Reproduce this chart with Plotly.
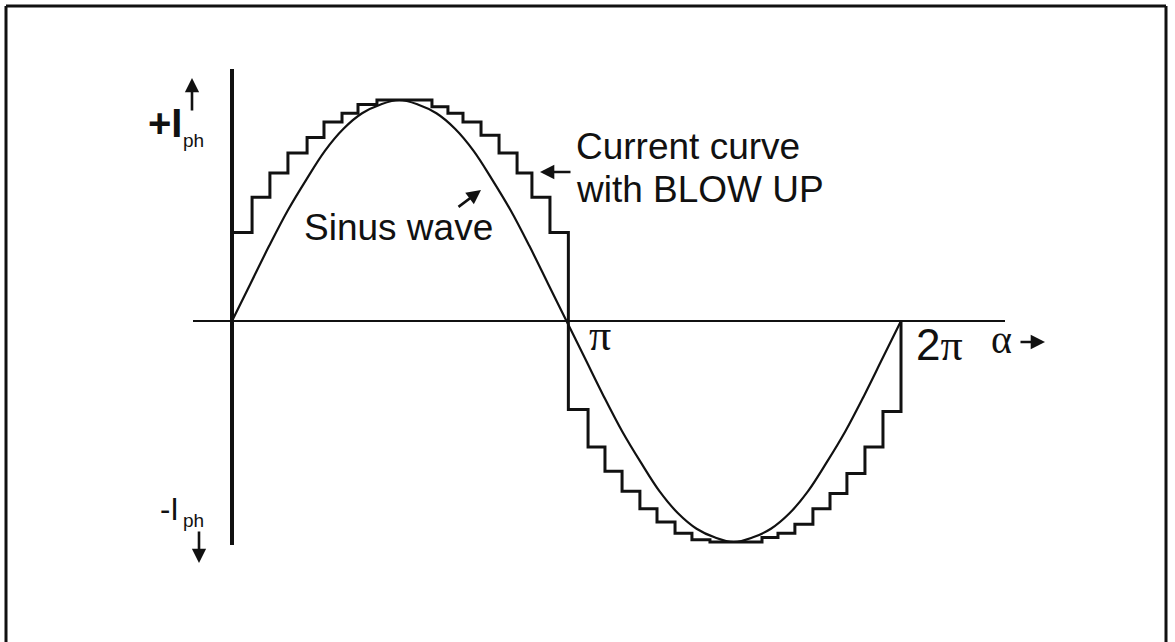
"""
Sinus wave vs. stepped current curve with BLOW UP (one full period).
"""
import plotly.graph_objects as go

W, H = 1175, 642
INK = '#111111'
SANS = 'Liberation Sans, Arial, sans-serif'
SERIF = 'Liberation Serif, Times New Roman, serif'

# ── Data (angle in degrees, current normalised to I_ph) ──────────────────────
sine_deg = [0, 10, 20, 30, 40, 50, 60, 70, 80, 90, 100, 110, 120, 130, 140, 150, 160, 170, 180,
            190, 200, 210, 220, 230, 240, 250, 260, 270, 280, 290, 300, 310, 320, 330, 340, 350, 360]
sine_val = [0, 0.17, 0.34, 0.50, 0.64, 0.77, 0.87, 0.94, 0.98, 1.00, 0.98, 0.94, 0.87, 0.77, 0.64, 0.50, 0.34, 0.17, 0,
            -0.17, -0.34, -0.50, -0.64, -0.77, -0.87, -0.94, -0.98, -1.00, -0.98, -0.94, -0.87, -0.77, -0.64, -0.50,
            -0.34, -0.17, 0]

step_start = [0, 10.8, 20.4, 30.1, 40.4, 49.5, 59.2, 67.8, 78.0, 107.6, 116.2, 124.3, 134.0, 143.7, 153.4, 161.4, 171.1,
              181.0, 191.6, 200.7, 209.9, 219.5, 228.7, 238.4, 247.5, 257.2, 285.2, 293.8, 302.9, 312.6, 321.8, 330.9,
              340.6, 350.3]
step_level = [0.40, 0.56, 0.67, 0.76, 0.83, 0.90, 0.94, 0.98, 1.00, 0.97, 0.94, 0.90, 0.84, 0.76, 0.67, 0.56, 0.40,
              -0.40, -0.57, -0.68, -0.77, -0.85, -0.91, -0.96, -0.99, -1.00, -0.98, -0.96, -0.92, -0.85, -0.78, -0.69,
              -0.57, -0.41]
period_end = 360

# ── Pixel geometry of the drawing ─────────────────────────────────────────────
X0_PX, X360_PX = 232, 901      # alpha = 0 and alpha = 2*pi
Y0_PX, AMP_PX = 321, 221       # zero line and amplitude
kx = (X360_PX - X0_PX) / 360.0


def px(x, y):
    """Pixel position -> paper coordinates."""
    return x / W, 1 - y / H


def dx(x):
    return (x - X0_PX) / kx


def dy(y):
    return (Y0_PX - y) / AMP_PX


fig = go.Figure()

# sinus wave
fig.add_trace(go.Scatter(
    x=sine_deg, y=sine_val, mode='lines',
    line=dict(color=INK, width=2.2, shape='spline', smoothing=1.0),
    hoverinfo='skip',
))

# current curve with blow up (staircase)
fig.add_trace(go.Scatter(
    x=[0] + step_start + [period_end],
    y=[0] + step_level + [0],
    mode='lines',
    line=dict(color=INK, width=3, shape='hv'),
    hoverinfo='skip',
))

# ── Hand-drawn style axes + frame ─────────────────────────────────────────────
shapes = [
    dict(type='line', xref='x', yref='y', x0=dx(193), x1=dx(1005), y0=0, y1=0,
         line=dict(color=INK, width=2)),
    dict(type='line', xref='x', yref='y', x0=0, x1=0, y0=dy(69), y1=dy(545),
         line=dict(color=INK, width=4)),
]
fl, ft, fr = px(6, 6)[0], px(6, 6)[1], px(1166, 6)[0]
for x0, y0, x1, y1 in [(fl, ft, fr, ft), (fl, ft, fl, -0.05), (fr, ft, fr, -0.05)]:
    shapes.append(dict(type='line', xref='paper', yref='paper', x0=x0, y0=y0, x1=x1, y1=y1,
                       line=dict(color=INK, width=3)))

# ── Labels ────────────────────────────────────────────────────────────────────
annotations = []


def label(text, x, y, size, family=SANS, xanchor='left'):
    ax_, ay_ = px(x, y)
    annotations.append(dict(text=text, x=ax_, y=ay_, xref='paper', yref='paper',
                            xanchor=xanchor, yanchor='middle', showarrow=False,
                            font=dict(family=family, size=size, color=INK)))


def arrow(x_tail, y_tail, x_head, y_head):
    hx, hy = px(x_head, y_head)
    annotations.append(dict(text='', x=hx, y=hy, xref='paper', yref='paper',
                            ax=x_tail - x_head, ay=y_tail - y_head, showarrow=True,
                            arrowhead=2, arrowsize=1.1, arrowwidth=2.6, arrowcolor=INK,
                            standoff=0, startstandoff=0))


label('<b>+I</b>', 146, 123, 40)
label('ph', 181, 140, 19)
arrow(192, 112, 192, 78)

label('-I', 158, 509, 31)
label('ph', 181, 520, 19)
arrow(199, 530, 199, 563)

label('Current curve', 574, 146, 37)
label('with BLOW UP', 574, 190, 37)
arrow(572, 172, 540, 172)

label('Sinus wave', 302, 227, 37)
arrow(457, 208, 481, 190)

label('π', 587, 336, 44, family=SERIF)
label(f'2<span style="font-family:{SERIF}">π</span>', 914, 345, 44)
label('α', 989, 340, 40, family=SERIF)
arrow(1019, 342, 1045, 342)

fig.update_layout(
    width=W, height=H,
    margin=dict(l=0, r=0, t=0, b=0),
    paper_bgcolor='white',
    plot_bgcolor='white',
    showlegend=False,
    xaxis=dict(visible=False, range=[-X0_PX / kx, (W - X0_PX) / kx], fixedrange=True),
    yaxis=dict(visible=False, range=[-(H - Y0_PX) / AMP_PX, Y0_PX / AMP_PX], fixedrange=True),
    shapes=shapes,
    annotations=annotations,
)

fig.write_html('out.html', config={'displayModeBar': False},
               post_script="document.body.style.margin='0';")
